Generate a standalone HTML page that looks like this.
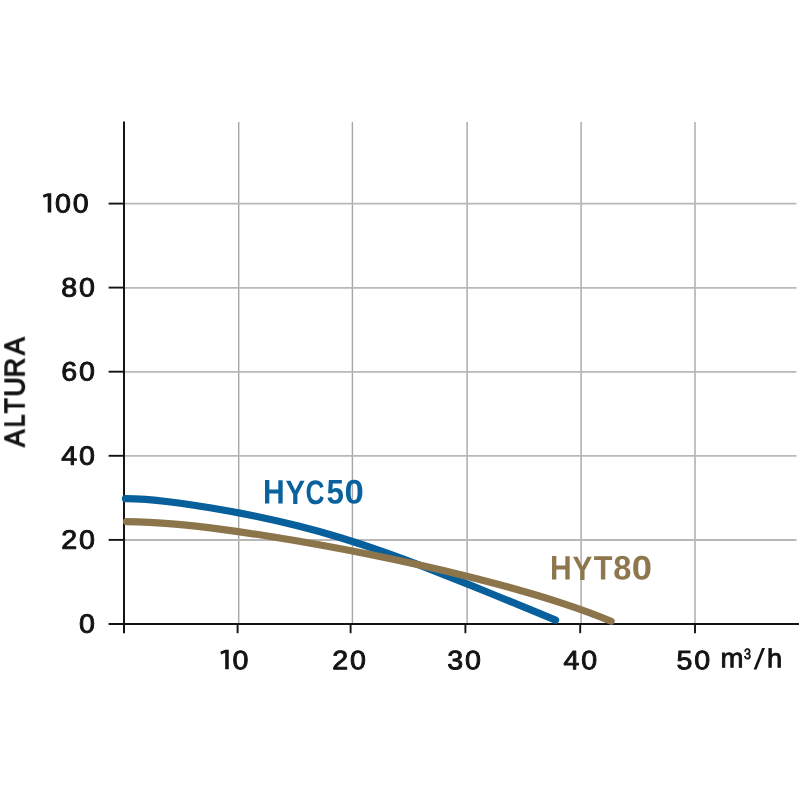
<!DOCTYPE html>
<html>
<head>
<meta charset="utf-8">
<title>Curva</title>
<style>
html,body{margin:0;padding:0;background:#ffffff;}
body{width:800px;height:800px;overflow:hidden;font-family:"Liberation Sans",sans-serif;}
svg{display:block;}
text{font-family:"Liberation Sans",sans-serif;}
.t{letter-spacing:1.75px;font-size:26.7px;fill:#111111;stroke:#111111;stroke-width:0.95px;stroke-linejoin:round;}
</style>
</head>
<body>
<svg width="800" height="800" viewBox="0 0 800 800">
<rect x="0" y="0" width="800" height="800" fill="#ffffff"/>
<g stroke="#a6a6a6" stroke-width="1.4" fill="none">
<line x1="238.7" y1="122" x2="238.7" y2="624"/>
<line x1="352.4" y1="122" x2="352.4" y2="624"/>
<line x1="467.1" y1="122" x2="467.1" y2="624"/>
<line x1="581.1" y1="122" x2="581.1" y2="624"/>
<line x1="695" y1="122" x2="695" y2="624"/>
</g>
<g stroke="#b8b8b8" stroke-width="1.8" fill="none">
<line x1="124" y1="203.7" x2="796.5" y2="203.7"/>
<line x1="124" y1="287.8" x2="796.5" y2="287.8"/>
<line x1="124" y1="371.8" x2="796.5" y2="371.8"/>
<line x1="124" y1="455.9" x2="796.5" y2="455.9"/>
<line x1="124" y1="540" x2="796.5" y2="540"/>
</g>
<g stroke="#141414" stroke-width="2" fill="none">
<line x1="124" y1="121.5" x2="124" y2="633.2"/>
<line x1="108.6" y1="623.9" x2="799" y2="623.9"/>
</g>
<g stroke="#141414" stroke-width="1.9" fill="none">
<line x1="108.6" y1="203.6" x2="124" y2="203.6"/>
<line x1="108.6" y1="287.6" x2="124" y2="287.6"/>
<line x1="108.6" y1="371.7" x2="124" y2="371.7"/>
<line x1="108.6" y1="455.8" x2="124" y2="455.8"/>
<line x1="108.6" y1="539.9" x2="124" y2="539.9"/>
<line x1="237.6" y1="623" x2="237.6" y2="633.2"/>
<line x1="350.6" y1="623" x2="350.6" y2="633.2"/>
<line x1="465.4" y1="623" x2="465.4" y2="633.2"/>
<line x1="580.2" y1="623" x2="580.2" y2="633.2"/>
<line x1="695" y1="623" x2="695" y2="633.2"/>
</g>
<path d="M125.5 498.72 C139.8 498.84 154.2 500.05 168.5 501.72 C182.8 503.39 197.2 505.53 211.5 507.93 C225.9 510.33 240.2 513.01 254.5 515.97 C268.9 518.94 283.2 522.19 297.5 525.79 C311.9 529.40 326.2 533.36 340.6 537.71 C354.9 542.05 369.2 546.78 383.6 551.84 C397.9 556.89 412.2 562.26 426.6 567.83 C440.9 573.39 455.2 579.13 469.6 584.91 C483.9 590.70 498.3 596.52 512.6 602.36 C526.9 608.20 541.3 614.04 555.6 620.16" stroke="#07609c" stroke-width="7.2" stroke-linecap="round" fill="none"/>
<path d="M126.6 521.60 C142.8 521.73 158.9 522.74 175.1 524.18 C191.2 525.63 207.3 527.52 223.5 529.66 C239.7 531.79 255.8 534.18 272.0 536.75 C288.1 539.31 304.2 542.06 320.4 544.97 C336.6 547.88 352.7 550.97 368.9 554.23 C385.0 557.49 401.2 560.93 417.3 564.55 C433.5 568.17 449.6 571.97 465.8 575.98 C481.9 580.00 498.1 584.22 514.2 588.73 C530.4 593.24 546.5 598.04 562.6 603.35 C578.8 608.66 595.0 614.47 611.1 621.23" stroke="#8d754b" stroke-width="7.2" stroke-linecap="round" fill="none"/>
<g opacity="0.99">
<g class="t" text-anchor="end">
<path transform="translate(42.8,212.55) scale(1,0.965)" d="M0 -18.1 L4.9 -20 L8.45 -20 L8.45 0 L4.9 0 L4.9 -16.9 L0.9 -15.3 Z" fill="#111111" stroke="none"/>
<text transform="translate(90.4,212.5) rotate(0.03) scale(1.07,1)">00</text>
<text transform="translate(96.8,296.5) rotate(0.03) scale(1.07,1)">80</text>
<text transform="translate(96.8,380.6) rotate(0.03) scale(1.07,1)">60</text>
<text transform="translate(96.8,464.7) rotate(0.03) scale(1.07,1)">40</text>
<text transform="translate(96.8,548.8) rotate(0.03) scale(1.07,1)">20</text>
<text transform="translate(96.8,632.8) rotate(0.03) scale(1.07,1)">0</text>
</g>
<g class="t" text-anchor="middle">
<path transform="translate(220.3,669.15) scale(1,0.965)" d="M0 -18.1 L4.9 -20 L8.45 -20 L8.45 0 L4.9 0 L4.9 -16.9 L0.9 -15.3 Z" fill="#111111" stroke="none"/>
<text text-anchor="start" transform="translate(232.6,669.15) rotate(0.03) scale(1.07,1)">0</text>
<text transform="translate(350.0,669.15) rotate(0.03) scale(1.07,1)">20</text>
<text transform="translate(465.1,669.15) rotate(0.03) scale(1.07,1)">30</text>
<text transform="translate(581.2,669.15) rotate(0.03) scale(1.07,1)">40</text>
<text transform="translate(694.3,669.15) rotate(0.03) scale(1.07,1)">50</text>
</g>
<text transform="translate(720.52,667.30) rotate(0.03) scale(1.0202,1)" font-size="27.0" fill="#111111" stroke="#111111" stroke-width="0.9" vector-effect="non-scaling-stroke">m</text>
<text transform="translate(743.88,659.10) rotate(0.03) scale(0.8296,1)" font-size="15.0" fill="#111111" stroke="#111111" stroke-width="0.7" vector-effect="non-scaling-stroke">3</text>
<path d="M753.6 669.4 L756.5 669.4 L765 648.1 L762.1 648.1 Z" fill="#111111"/>
<text transform="translate(767.06,667.30) rotate(0.03) scale(1.0484,1)" font-size="26.0" fill="#111111" stroke="#111111" stroke-width="0.9" vector-effect="non-scaling-stroke">h</text>
<g transform="translate(24.2,447.4) rotate(-90.03)">
<text transform="translate(0.57,0.00) rotate(0.03) scale(0.9237,1)" font-size="28.0" fill="#111111" stroke="#111111" stroke-width="1.25" vector-effect="non-scaling-stroke">A</text>
<text transform="translate(20.16,0.00) rotate(0.03) scale(0.8100,1)" font-size="28.0" fill="#111111" stroke="#111111" stroke-width="1.25" vector-effect="non-scaling-stroke">L</text>
<text transform="translate(34.23,0.00) rotate(0.03) scale(0.8685,1)" font-size="28.0" fill="#111111" stroke="#111111" stroke-width="1.25" vector-effect="non-scaling-stroke">T</text>
<text transform="translate(50.70,0.00) rotate(0.03) scale(0.9591,1)" font-size="28.0" fill="#111111" stroke="#111111" stroke-width="1.25" vector-effect="non-scaling-stroke">U</text>
<text transform="translate(70.06,0.00) rotate(0.03) scale(0.9624,1)" font-size="28.0" fill="#111111" stroke="#111111" stroke-width="1.25" vector-effect="non-scaling-stroke">R</text>
<text transform="translate(92.47,0.00) rotate(0.03) scale(0.9426,1)" font-size="28.0" fill="#111111" stroke="#111111" stroke-width="1.25" vector-effect="non-scaling-stroke">A</text>
</g>
<text transform="translate(263.09,503.60) rotate(0.03) scale(0.8830,1)" font-size="34" font-weight="bold" fill="#07609c">H</text>
<text transform="translate(285.60,503.60) rotate(0.03) scale(0.8632,1)" font-size="34" font-weight="bold" fill="#07609c">Y</text>
<text transform="translate(305.52,503.60) rotate(0.03) scale(0.7760,1)" font-size="34" font-weight="bold" fill="#07609c">C</text>
<text transform="translate(326.44,503.60) rotate(0.03) scale(0.9221,1)" font-size="34" font-weight="bold" fill="#07609c">5</text>
<text transform="translate(344.43,503.60) rotate(0.03) scale(1.0204,1)" font-size="34" font-weight="bold" fill="#07609c">0</text>
<text transform="translate(550.09,579.60) rotate(0.03) scale(0.8830,1)" font-size="34" font-weight="bold" fill="#8d754b">H</text>
<text transform="translate(572.59,579.60) rotate(0.03) scale(0.8724,1)" font-size="34" font-weight="bold" fill="#8d754b">Y</text>
<text transform="translate(593.76,579.60) rotate(0.03) scale(0.8990,1)" font-size="34" font-weight="bold" fill="#8d754b">T</text>
<text transform="translate(613.36,579.60) rotate(0.03) scale(0.9592,1)" font-size="34" font-weight="bold" fill="#8d754b">8</text>
<text transform="translate(631.66,579.60) rotate(0.03) scale(1.0699,1)" font-size="34" font-weight="bold" fill="#8d754b">0</text>
</g>
</svg>
</body>
</html>
